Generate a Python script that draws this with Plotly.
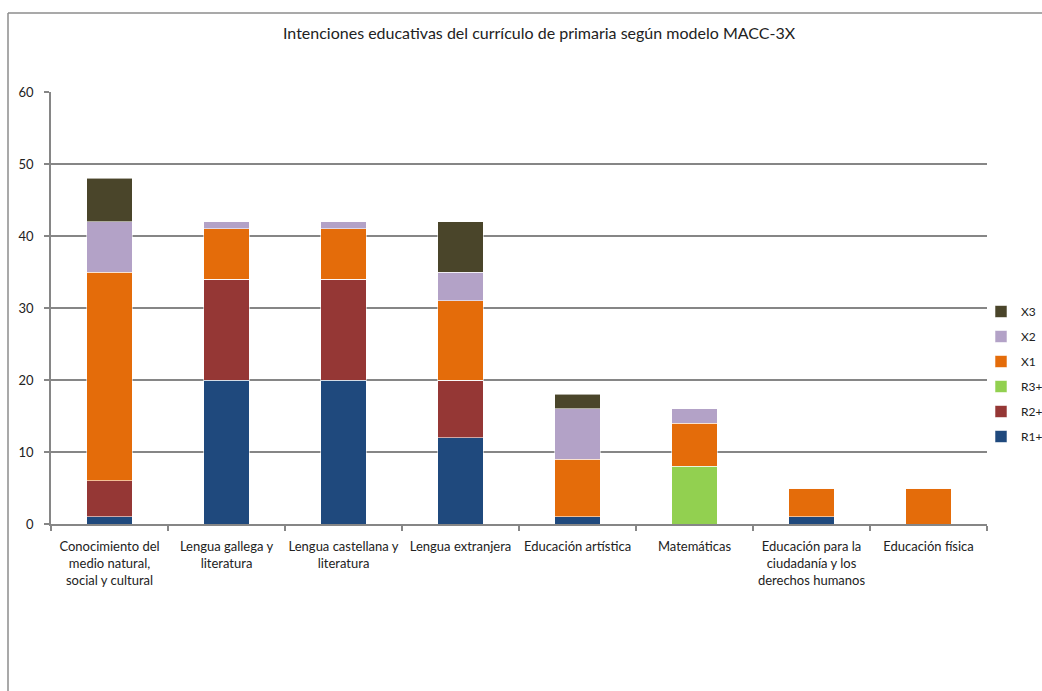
import plotly.graph_objects as go

categories = [
    "Conocimiento del<br>medio natural,<br>social y cultural",
    "Lengua gallega y<br>literatura",
    "Lengua castellana y<br>literatura",
    "Lengua extranjera",
    "Educación artística",
    "Matemáticas",
    "Educación para la<br>ciudadanía y los<br>derechos humanos",
    "Educación física",
]

r1 = [1, 20, 20, 12, 1, 0, 1, 0]
r2 = [5, 14, 14, 8, 0, 0, 0, 0]
r3 = [0, 0, 0, 0, 0, 8, 0, 0]
x1 = [29, 7, 7, 11, 8, 6, 4, 5]
x2 = [7, 1, 1, 4, 7, 2, 0, 0]
x3 = [6, 0, 0, 7, 2, 0, 0, 0]

series = [
    ("R1+", r1, "#1F497D"),
    ("R2+", r2, "#953735"),
    ("R3+", r3, "#92D050"),
    ("X1", x1, "#E46C0A"),
    ("X2", x2, "#B3A2C7"),
    ("X3", x3, "#4A452A"),
]

y_ticks = [0, 10, 20, 30, 40, 50, 60]

FONT = "Lato, 'Open Sans', sans-serif"
GRID = "#868686"
TEXT = "#222222"

fig = go.Figure()
for i, (name, vals, color) in enumerate(series):
    fig.add_trace(go.Bar(
        name=name,
        x=categories,
        y=vals,
        marker=dict(color=color, line=dict(color="rgba(255,255,255,0.7)", width=0.8)),
        legendgroup=name,
        legendrank=len(series) - i,
    ))

# plot area spans x 51..987 px and y 92..524 px
L, R, T, B = 51, 55, 92, 167
W, H = 1042, 691
pw, ph = W - L - R, H - T - B

def px_x(p):
    return (p - L) / pw

def px_y(p):
    return (H - B - p) / ph

fig.update_layout(
    width=W, height=H,
    margin=dict(l=L, r=R, t=T, b=B, autoexpand=False),
    barmode="stack",
    bargap=0.61,
    plot_bgcolor="white",
    paper_bgcolor="white",
    font=dict(family=FONT, size=13, color=TEXT),
    title=dict(
        text="Intenciones educativas del currículo de primaria según modelo MACC-3X",
        x=539 / W, xref="container", xanchor="center",
        y=1 - 33 / H, yanchor="middle",
        font=dict(family=FONT, size=16, color=TEXT),
    ),
    showlegend=True,
    legend=dict(
        traceorder="grouped",
        tracegroupgap=6,
        x=px_x(981), xanchor="left",
        y=px_y(297), yanchor="top",
        font=dict(family=FONT, size=12, color=TEXT),
        itemwidth=30,
        bgcolor="rgba(0,0,0,0)",
    ),
    xaxis=dict(
        type="category",
        tickson="boundaries",
        ticks="outside",
        ticklen=5,
        tickcolor=GRID,
        tickwidth=1.5,
        tickangle=0,
        showline=True,
        linecolor=GRID,
        linewidth=1.5,
        showgrid=False,
        ticklabelstandoff=10,
        tickfont=dict(family=FONT, size=13, color=TEXT),
    ),
    yaxis=dict(
        range=[0, 60],
        tickvals=y_ticks,
        ticks="outside",
        ticklen=5,
        tickcolor=GRID,
        tickwidth=1.5,
        showline=True,
        linecolor=GRID,
        linewidth=1.5,
        showgrid=True,
        gridcolor=GRID,
        gridwidth=1.5,
        zeroline=False,
        ticklabelstandoff=8,
        tickfont=dict(family=FONT, size=13, color=TEXT),
    ),
)

# chart frame: top and left border of the chart area
fig.add_shape(type="line", xref="paper", yref="paper",
              x0=px_x(8), x1=px_x(1045), y0=px_y(13), y1=px_y(13),
              line=dict(color="#8C8C8C", width=1.5))
fig.add_shape(type="line", xref="paper", yref="paper",
              x0=px_x(8), x1=px_x(8), y0=px_y(13), y1=px_y(695),
              line=dict(color="#8C8C8C", width=1.5))

fig.write_html("out.html")
